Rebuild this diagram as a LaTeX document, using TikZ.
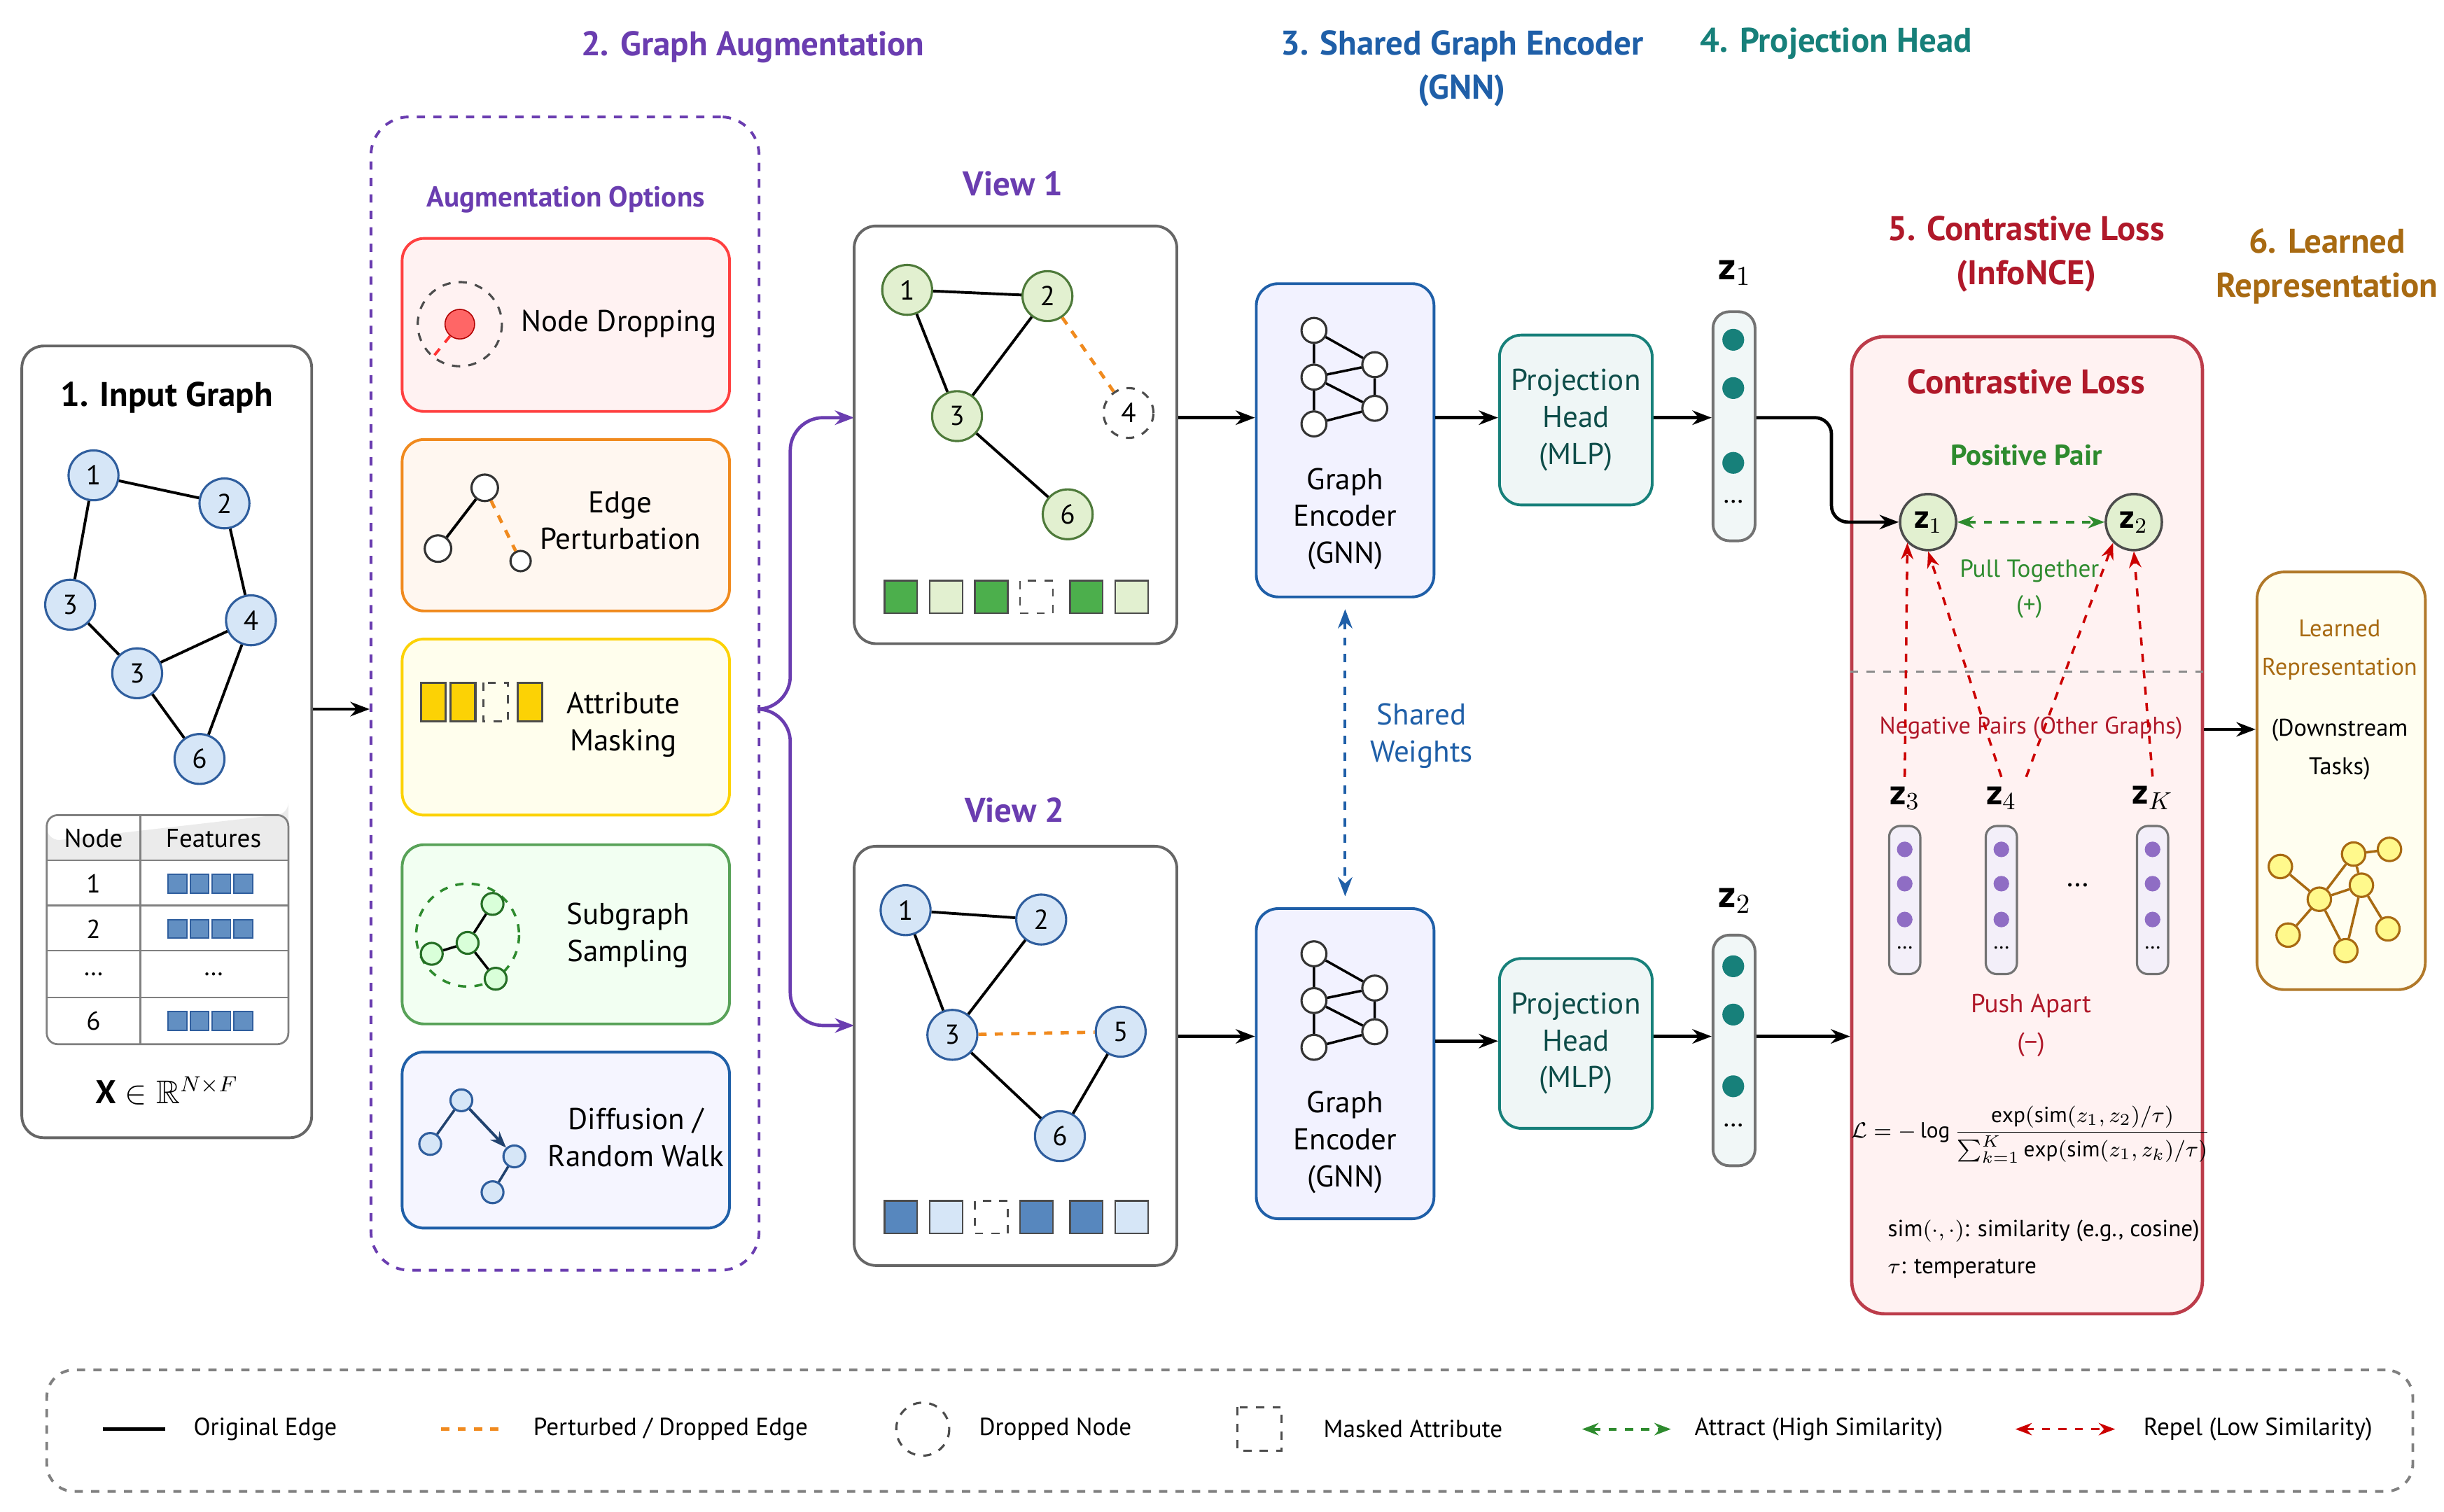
\documentclass[tikz,border=0pt]{standalone}
\usepackage{amsmath,amssymb}
\usepackage{fontspec}
\setmainfont{PT Sans}
\usetikzlibrary{arrows.meta,fit,calc}
\definecolor{cpur}{HTML}{6A3DB0}
\definecolor{cblu}{HTML}{1F5FA8}
\definecolor{ctea}{HTML}{17807A}
\definecolor{cred}{HTML}{B0192A}
\definecolor{cgold}{HTML}{A86A12}
\definecolor{cgrn}{HTML}{2E8B2E}
\definecolor{cora}{HTML}{F08A1E}
\definecolor{nb}{HTML}{2F5E9E}
\definecolor{nf}{HTML}{D6E6F7}
\definecolor{gb}{HTML}{4E7A3A}
\definecolor{gf}{HTML}{E2F0D0}
\tikzset{
 box/.style={draw, rounded corners=8pt, line width=1pt, inner sep=0pt},
 gn/.style={circle, draw=nb, fill=nf, line width=0.8pt, minimum size=0.64cm, inner sep=0pt, font=\fontsize{10}{10}\selectfont},
 gg/.style={gn, draw=gb, fill=gf},
 sn/.style={circle, draw=black!80, fill=white, line width=0.8pt, minimum size=0.34cm, inner sep=0pt},
 arr/.style={-{Stealth[length=7pt]}, line width=1.2pt},
 ttl/.style={font=\bfseries\fontsize{12.5}{16}\selectfont, align=center},
 txt/.style={font=\fontsize{11}{13.5}\selectfont, align=center},
 lg/.style={font=\fontsize{9}{11}\selectfont, anchor=west},
 od/.style={cora, dashed, line width=1.2pt},
 sq/.style={draw=black!70, line width=0.6pt, minimum size=0.42cm, inner sep=0pt},
 att/.style={cgrn, dashed, {Stealth[length=6pt]}-{Stealth[length=6pt]}, line width=1pt},
 rep/.style={red!80!black, dashed, -{Stealth[length=6pt]}, line width=0.9pt},
}
\begin{document}
\begin{tikzpicture}[x=0.02cm,y=-0.02cm]
\useasboundingbox[fill=white] (0,0) rectangle (1568,970);
% titles
\node[ttl, text=cpur] (t2) at (483,30) {2. Graph Augmentation};
\node[ttl, text=cblu] (t3) at (938,44) {3. Shared Graph Encoder\\(GNN)};
\node[ttl, text=ctea] (t4) at (1178,28) {4. Projection Head};
\node[ttl, text=cred] (t5) at (1300,163) {5. Contrastive Loss\\(InfoNCE)};
\node[ttl, text=cgold] (t6) at (1493,171) {6. Learned\\Representation};
% input box
\node[box, draw=black!60, fit={(14,222)(200,730)}] (inp) {};
\node[ttl, text=black] at (107,255) {1. Input Graph};
\node[gn] (ia) at (60,305) {1};
\node[gn] (ib) at (144,323) {2};
\node[gn] (ic) at (45,388) {3};
\node[gn] (id) at (161,398) {4};
\node[gn] (ie) at (88,432) {3};
\node[gn] (if) at (128,487) {6};
\draw[line width=1pt] (ia)--(ib) (ib)--(id) (ia)--(ic) (ic)--(ie) (ie)--(id) (id)--(if) (ie)--(if);
% table
\fill[black!8] (30,552) -- (30,531) arc[start angle=180,end angle=90,radius=8] -- (177,523) arc[start angle=90,end angle=0,radius=8] -- (185,552) -- cycle;
\node[box, draw=black!50, line width=0.7pt, rounded corners=4pt, fit={(30,523)(185,670)}] (tab) {};
\draw[black!50, line width=0.6pt] (30,552)--(185,552) (30,581)--(185,581) (30,610)--(185,610) (30,640)--(185,640) (90,523)--(90,670);
\node[txt, font=\fontsize{9.5}{11}\selectfont] at (60,538) {Node};
\node[txt, font=\fontsize{9.5}{11}\selectfont] at (137,538) {Features};
\foreach \y/\t in {567/1,596/2,625/…,655/6}{\node[txt, font=\fontsize{9.5}{11}\selectfont] at (60,\y) {\t};}
\foreach \y in {567,596,655}{\foreach \x in {114,128,142,156}{\draw[fill=cblu!70, draw=nb, line width=0.5pt] (\x-6,\y-6) rectangle (\x+6,\y+6);}}
\node[txt, font=\fontsize{9.5}{11}\selectfont] at (137,625) {…};
\node[font=\fontsize{12}{14}\selectfont] at (107,700) {$\mathbf{X}\in\mathbb{R}^{N\times F}$};
% augmentation
\node[box, draw=cpur, dashed, rounded corners=14pt, fit={(238,75)(487,815)}] (aug) {};
\draw[arr] (inp.east |- 0,455) -- (aug.west |- 0,455);
\node[txt, text=cpur, font=\bfseries\fontsize{10.5}{14}\selectfont] at (363,128) {Augmentation Options};
\node[box, draw=red!75, fill=red!5, fit={(258,153)(468,264)}] (o1) {};
\node[box, draw=cora, fill=orange!6, fit={(258,282)(468,392)}] (o2) {};
\node[box, draw=yellow!70!orange, fill=yellow!7, fit={(258,410)(468,523)}] (o3) {};
\node[box, draw=cgrn!80, fill=green!5, fit={(258,542)(468,657)}] (o4) {};
\node[box, draw=cblu, fill=blue!4, fit={(258,675)(468,788)}] (o5) {};
\node[txt] at (397,208) {Node Dropping};
\node[txt] at (398,334) {Edge\\Perturbation};
\node[txt] at (400,465) {Attribute\\Masking};
\node[txt] at (403,600) {Subgraph\\Sampling};
\node[txt] at (408,730) {Diffusion /\\Random Walk};
% icons
\draw[dashed, black!70, line width=0.8pt] (295,208) circle[radius=27];
\node[circle, draw=red!70!black, fill=red!60, minimum size=0.38cm, inner sep=0] (nd) at (295,208) {};
\coordinate (ndx) at (277,230);
\draw[red!80, dashed, line width=1pt] (nd)--(ndx);
\node[sn] (e1) at (311,313) {};
\node[sn] (e2) at (281,352) {};
\node[sn, minimum size=0.26cm] (e3) at (334,360) {};
\draw[line width=1pt] (e1)--(e2);
\draw[od] (e1)--(e3);
\foreach \x in {278,297,340}{
 \draw[line width=0.8pt, draw=black!70, fill=yellow!70!orange] (\x-8,438) rectangle (\x+8,463);}
\draw[dashed, black!70, line width=0.8pt] (310,438) rectangle (326,463);
\draw[dashed, cgrn, line width=0.9pt] (300,600) circle[radius=33];
\node[sn, draw=cgrn!80!black, fill=green!15, minimum size=0.28cm] (s1) at (316,580) {};
\node[sn, draw=cgrn!80!black, fill=green!15, minimum size=0.28cm] (s2) at (300,605) {};
\node[sn, draw=cgrn!80!black, fill=green!15, minimum size=0.28cm] (s3) at (277,612) {};
\node[sn, draw=cgrn!80!black, fill=green!15, minimum size=0.28cm] (s4) at (318,628) {};
\draw[line width=0.9pt] (s1)--(s2) (s2)--(s3) (s2)--(s4);
\node[sn, draw=nb, fill=nf, minimum size=0.28cm] (r1) at (296,706) {};
\node[sn, draw=nb, fill=nf, minimum size=0.28cm] (r2) at (276,734) {};
\node[sn, draw=nb, fill=nf, minimum size=0.28cm] (r3) at (330,742) {};
\node[sn, draw=nb, fill=nf, minimum size=0.28cm] (r4) at (316,765) {};
\draw[line width=0.9pt, draw=nb!70!black] (r1)--(r2) (r3)--(r4);
\draw[-{Stealth[length=6pt]}, line width=1pt, draw=nb!70!black] (r1)--(r3);
% split arrows
\draw[arr, cpur, rounded corners=12pt] (aug.east |- 0,455) -| (507,268) -- (548,268);
\draw[arr, cpur, rounded corners=12pt] (aug.east |- 0,455) -| (507,658) -- (548,658);
% view 1
\node[ttl, text=cpur] at (650,118) {View 1};
\node[box, draw=black!60, fit={(548,145)(755,413)}] (v1) {};
\node[gg] (a1) at (582,186) {1};
\node[gg] (a2) at (672,190) {2};
\node[gg] (a3) at (614,267) {3};
\node[gn, draw=black!70, fill=white, dashed] (a4) at (724,265) {4};
\node[gg] (a6) at (685,330) {6};
\draw[line width=1pt] (a1)--(a2) (a1)--(a3) (a2)--(a3) (a3)--(a6);
\draw[od] (a2)--(a4);
\foreach \x/\c in {578/green!55!black!70,607/gf,636/green!55!black!70,697/green!55!black!70,726/gf}{
 \node[sq, fill=\c] at (\x,383) {};}
\node[sq, dashed] at (665,383) {};
% view 2
\node[ttl, text=cpur] at (651,520) {View 2};
\node[box, draw=black!60, fit={(548,543)(755,812)}] (v2) {};
\node[gn] (b1) at (581,584) {1};
\node[gn] (b2) at (668,590) {2};
\node[gn] (b3) at (611,664) {3};
\node[gn] (b5) at (719,662) {5};
\node[gn] (b6) at (680,729) {6};
\draw[line width=1pt] (b1)--(b2) (b1)--(b3) (b2)--(b3) (b3)--(b6) (b5)--(b6);
\draw[od] (b3)--(b5);
\foreach \x/\c in {578/cblu!75,607/nf,665/cblu!75,697/cblu!75,726/nf}{
 \node[sq, fill=\c] at (\x,781) {};}
\node[sq, dashed] at (636,781) {};
% encoders
\node[box, draw=cblu, fill=blue!5, fit={(806,182)(920,383)}] (en1) {};
\node[box, draw=cblu, fill=blue!5, fit={(806,583)(920,782)}] (en2) {};
\node[txt] at (863,333) {Graph\\Encoder\\(GNN)};
\node[txt] at (863,733) {Graph\\Encoder\\(GNN)};
\foreach \n/\dy in {p/0,q/400}{
 \node[sn, minimum size=0.32cm] (\n1) at (843,212+\dy) {};
 \node[sn, minimum size=0.32cm] (\n2) at (843,242+\dy) {};
 \node[sn, minimum size=0.32cm] (\n3) at (882,234+\dy) {};
 \node[sn, minimum size=0.32cm] (\n4) at (882,262+\dy) {};
 \node[sn, minimum size=0.32cm] (\n5) at (843,272+\dy) {};
 \draw[line width=0.9pt] (\n1)--(\n2) (\n1)--(\n3) (\n2)--(\n3) (\n2)--(\n4) (\n3)--(\n4) (\n5)--(\n4) (\n2)--(\n5);
}
\draw[arr] (v1.east |- 0,268) -- (en1.west |- 0,268);
\draw[arr] (v2.east |- 0,665) -- (en2.west |- 0,665);
\coordinate (sw1) at ($(en1.south)+(0,7)$);
\coordinate (sw2) at ($(en2.north)+(0,-7)$);
\draw[cblu, dashed, line width=1pt, {Stealth[length=7pt]}-{Stealth[length=7pt]}] (sw1)--(sw2);
\node[txt, text=cblu] at (912,472) {Shared\\Weights};
% projection heads
\node[box, draw=ctea, fill=ctea!7, fit={(962,215)(1060,324)}] (pr1) {};
\node[box, draw=ctea, fill=ctea!7, fit={(962,615)(1060,724)}] (pr2) {};
\node[txt, text=ctea!60!black] at (pr1) {Projection\\Head\\(MLP)};
\node[txt, text=ctea!60!black] at (pr2) {Projection\\Head\\(MLP)};
\draw[arr] (en1.east |- 0,268) -- (pr1.west |- 0,268);
\draw[arr] (en2.east |- 0,668) -- (pr2.west |- 0,668);
% z vectors
\node[box, draw=black!55, fill=ctea!6, rounded corners=6pt, fit={(1099,200)(1126,347)}] (zv1) {};
\node[box, draw=black!55, fill=ctea!6, rounded corners=6pt, fit={(1099,600)(1126,748)}] (zv2) {};
\foreach \y in {218,249,297}{\fill[ctea] (1112,\y) circle[radius=7];}
\foreach \y in {620,651,697}{\fill[ctea] (1112,\y) circle[radius=7];}
\node[font=\fontsize{10}{10}\selectfont] at (1112,322) {…};
\node[font=\fontsize{10}{10}\selectfont] at (1112,722) {…};
\node[font=\fontsize{14}{16}\selectfont] at (1113,175) {$\mathbf{z}_1$};
\node[font=\fontsize{14}{16}\selectfont] at (1113,578) {$\mathbf{z}_2$};
\draw[arr] (pr1.east |- 0,268) -- (zv1.west |- 0,268);
\draw[arr] (pr2.east |- 0,665) -- (zv2.west |- 0,665);
% contrastive loss
\node[box, draw=cred!85, fill=red!5, line width=1.2pt, rounded corners=12pt, fit={(1188,216)(1413,843)}] (cl) {};
\node[ttl, text=cred] at (1300,245) {Contrastive Loss};
\node[txt, text=cgrn, font=\bfseries\fontsize{10.5}{13}\selectfont] at (1300,292) {Positive Pair};
\node[circle, draw=black!70, fill=gf, line width=0.9pt, minimum size=0.72cm, inner sep=0, font=\fontsize{12}{12}\selectfont] (c1) at (1237,335) {$\mathbf{z}_1$};
\node[circle, draw=black!70, fill=gf, line width=0.9pt, minimum size=0.72cm, inner sep=0, font=\fontsize{12}{12}\selectfont] (c2) at (1369,335) {$\mathbf{z}_2$};
\draw[att] (c1)--(c2);
\node[txt, text=cgrn, font=\fontsize{9}{13}\selectfont] at (1302,378) {Pull Together\\(+)};
\draw[black!45, dashed, line width=0.8pt] (cl.west |- 0,431) -- (cl.east |- 0,431);
\node[txt, text=cred, font=\fontsize{8.8}{12}\selectfont] at (1303,467) {Negative Pairs (Other Graphs)};
\node[font=\fontsize{13}{14}\selectfont] (z3) at (1222,512) {$\mathbf{z}_3$};
\node[font=\fontsize{13}{14}\selectfont] (z4) at (1284,512) {$\mathbf{z}_4$};
\node[font=\fontsize{13}{14}\selectfont] (zk) at (1381,512) {$\mathbf{z}_K$};
\foreach \x in {1222,1284,1381}{
 \draw[black!55, fill=cpur!8, line width=0.8pt, rounded corners=4pt] (\x-10,530) rectangle (\x+10,625);
 \foreach \y in {545,567,590}{\fill[cpur!75] (\x,\y) circle[radius=5];}
 \node[font=\fontsize{8}{8}\selectfont] at (\x,608) {…};}
\node[font=\fontsize{11}{11}\selectfont] at (1333,568) {…};
\draw[rep] (z3.north) -- (c1.south west);
\draw[rep] (z4.north) -- (c1.south);
\draw[rep] (z4.north east) -- (c2.south west);
\draw[rep] (zk.north) -- (c2.south);
\node[txt, text=cred, font=\fontsize{9.5}{14}\selectfont] at (1303,658) {Push Apart\\(−)};
\node[font=\fontsize{8}{10}\selectfont] at (1303,728) {$\mathcal{L}=-\log\dfrac{\exp(\mathrm{sim}(z_1,z_2)/\tau)}{\sum_{k=1}^{K}\exp(\mathrm{sim}(z_1,z_k)/\tau)}$};
\node[font=\fontsize{8.5}{11}\selectfont, anchor=west] at (1205,790) {sim$(\cdot,\cdot)$: similarity (e.g., cosine)};
\node[font=\fontsize{8.5}{11}\selectfont, anchor=west] at (1205,814) {$\tau$: temperature};
\draw[arr, rounded corners=6pt] (zv1.east |- 0,268) -- (1175,268) -- (1175,335) -- (c1.west);
\draw[arr] (zv2.east |- 0,665) -- (cl.west |- 0,665);
% learned
\node[box, draw=cgold!90, fill=yellow!6, rounded corners=10pt, fit={(1448,367)(1556,635)}] (lr) {};
\draw[arr] (cl.east |- 0,468) -- (lr.west |- 0,468);
\node[txt, text=cgold, font=\fontsize{8.8}{14}\selectfont] at (1501,417) {Learned\\Representation};
\node[txt, font=\fontsize{8.8}{14}\selectfont] at (1501,481) {(Downstream\\Tasks)};
\foreach \n/\x/\y in {l0/1488/577,l1/1463/556,l2/1468/600,l3/1510/548,l4/1533/545,l5/1515/568,l6/1532/596,l7/1505/610}{
 \node[sn, draw=cgold, fill=yellow!45, minimum size=0.3cm] (\n) at (\x,\y) {};}
\draw[cgold, line width=0.9pt] (l0)--(l1) (l0)--(l2) (l0)--(l3) (l3)--(l4) (l0)--(l5) (l5)--(l6) (l5)--(l7) (l0)--(l7) (l3)--(l5);
% legend
\node[box, draw=black!50, dashed, rounded corners=10pt, fit={(30,879)(1548,957)}] (leg) {};
\draw[line width=1.3pt] (66,917)--(106,917);
\node[lg] at (118,917) {Original Edge};
\draw[od] (283,917)--(322,917);
\node[lg] at (336,917) {Perturbed / Dropped Edge};
\draw[dashed, black!70, line width=0.8pt] (592,917) circle[radius=17];
\node[lg] at (622,917) {Dropped Node};
\draw[dashed, black!70, line width=0.8pt] (794,903) rectangle (822,931);
\node[lg] at (843,917) {Masked Attribute};
\draw[att] (1015,917)--(1072,917);
\node[lg] at (1081,917) {Attract (High Similarity)};
\draw[rep, {Stealth[length=6pt]}-{Stealth[length=6pt]}] (1293,917)--(1357,917);
\node[lg] at (1369,917) {Repel (Low Similarity)};
\end{tikzpicture}
\end{document}
